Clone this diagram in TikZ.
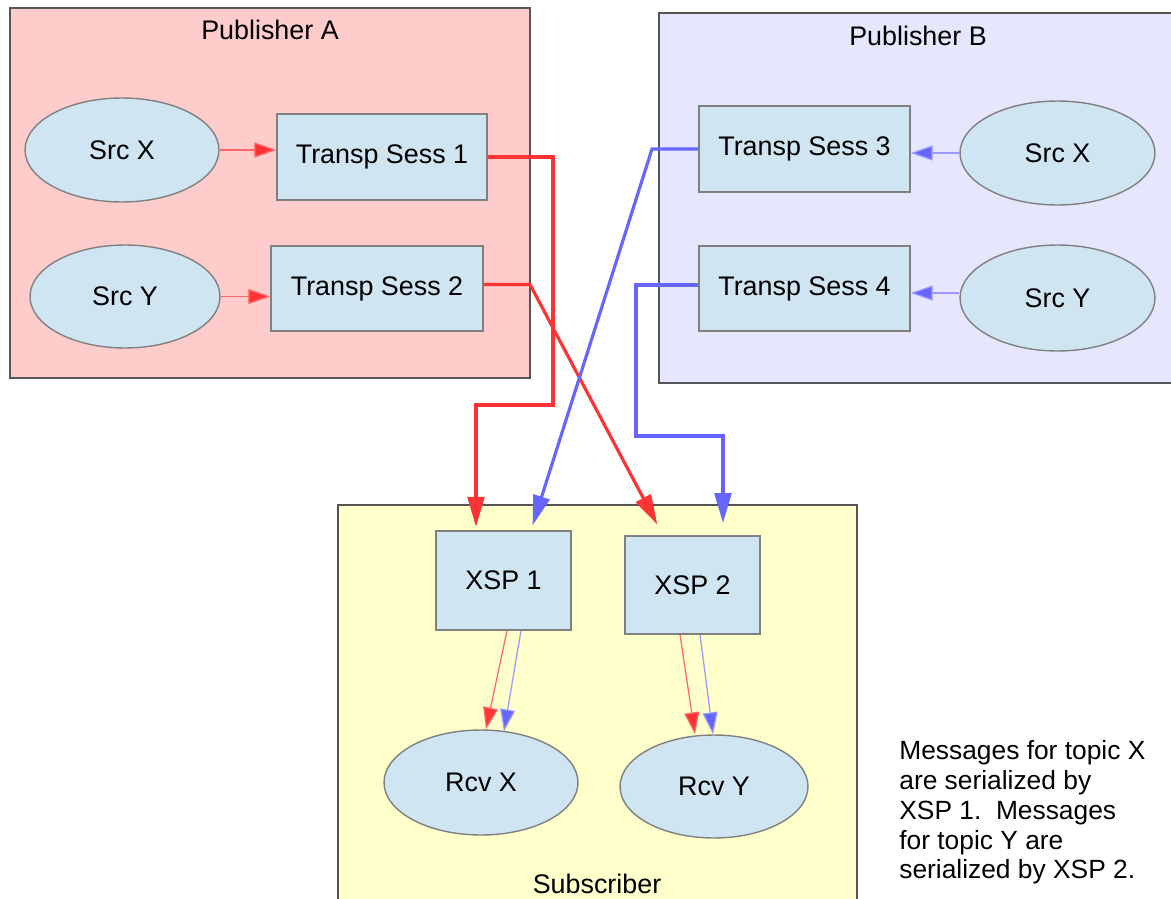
\documentclass[tikz,border=0pt]{standalone}
\usepackage{fontspec}
\setmainfont{Liberation Sans}
\usetikzlibrary{arrows.meta,shapes.geometric}
\definecolor{pinkbg}{HTML}{FFCCCC}
\definecolor{lavbg}{HTML}{E6E6FF}
\definecolor{yelbg}{HTML}{FFFFCC}
\definecolor{nodefill}{HTML}{CFE6F2}
\definecolor{nodeline}{HTML}{808080}
\definecolor{boxline}{HTML}{555555}
\definecolor{redc}{HTML}{FF3333}
\definecolor{bluec}{HTML}{6666FF}
\definecolor{redthin}{HTML}{FF6666}
\definecolor{bluethin}{HTML}{9999FF}
\begin{document}
\begin{tikzpicture}[x=0.02cm,y=-0.02cm,
  every node/.style={font=\fontsize{15.3}{17}\selectfont},
  container/.style={draw=boxline,line width=0.6pt},
  boxnode/.style={draw=nodeline,fill=nodefill,line width=0.8pt,rectangle,inner sep=0pt},
  ellnode/.style={draw=nodeline,fill=nodefill,line width=0.8pt,ellipse,inner sep=0pt},
  thickred/.style={draw=redc,line width=1.8pt,-{Triangle[length=17pt,width=9.5pt]}},
  thickblue/.style={draw=bluec,line width=1.8pt,-{Triangle[length=17pt,width=9.5pt]}},
  thinred/.style={draw=redthin,line width=0.7pt,-{Triangle[length=12.5pt,width=8.5pt,fill=redc]}},
  thinblue/.style={draw=bluethin,line width=0.7pt,-{Triangle[length=12.5pt,width=8.5pt,fill=bluec]}}]
\useasboundingbox[fill=white] (0,0) rectangle (1171,899);
% containers
\draw[container,fill=pinkbg] (10,8) rectangle (530,378);
\draw[container,fill=lavbg] (659,13) rectangle (1185,383);
\draw[container,fill=yelbg] (338,505) rectangle (857,915);
\node (pubA) at (270,30) {Publisher A};
\node (pubB) at (918,36) {Publisher B};
\node (sub) at (597,884) {Subscriber};
% nodes
\node[ellnode,minimum width=3.88cm,minimum height=2.08cm] (srcxa) at (122,150) {Src X};
\node[ellnode,minimum width=3.8cm,minimum height=2.06cm] (srcya) at (125,296.5) {Src Y};
\node[boxnode,minimum width=4.2cm,minimum height=1.72cm] (ts1) at (382,157) {Transp Sess 1};
\node[boxnode,minimum width=4.24cm,minimum height=1.7cm] (ts2) at (377,288.5) {Transp Sess 2};
\node[boxnode,minimum width=4.22cm,minimum height=1.72cm] (ts3) at (804.5,149) {Transp Sess 3};
\node[boxnode,minimum width=4.22cm,minimum height=1.7cm] (ts4) at (804.5,288.5) {Transp Sess 4};
\node[ellnode,minimum width=3.9cm,minimum height=2.08cm] (srcxb) at (1057.5,153) {Src X};
\node[ellnode,minimum width=3.9cm,minimum height=2.12cm] (srcyb) at (1057.5,298) {Src Y};
\node[boxnode,minimum width=2.7cm,minimum height=1.98cm] (xsp1) at (503.5,580.5) {XSP 1};
\node[boxnode,minimum width=2.7cm,minimum height=1.96cm] (xsp2) at (692.5,585) {XSP 2};
\node[ellnode,minimum width=3.88cm,minimum height=2.1cm] (rcvx) at (481,782.5) {Rcv X};
\node[ellnode,minimum width=3.76cm,minimum height=2.06cm] (rcvy) at (714,786.5) {Rcv Y};
\node[align=left,anchor=north west,inner sep=0pt,font=\fontsize{15}{17}\selectfont] (note) at (899,740)
  {Messages for topic X\\are serialized by\\XSP 1.\ \ Messages\\for topic Y are\\serialized by XSP 2.};
% thin arrows
\draw[thinred] (srcxa.east) -- (srcxa.east -| ts1.west);
\draw[thinred] (srcya.east) -- (srcya.east -| ts2.west);
\draw[thinblue] (srcxb.west) -- (srcxb.west -| ts3.east);
\draw[thinblue] ([yshift=0.1cm]srcyb.west) -- ([yshift=0.1cm]srcyb.west -| ts4.east);
% thick connectors
\coordinate (k1) at (553,405);
\coordinate (k2) at (530,284.5);
\coordinate (k3) at (652,149);
\coordinate (k4) at (636,436);
\draw[thickred,shorten >=2pt] (ts1.east) -| (k1) -| ([xshift=-0.55cm]xsp1.north);
\draw[thickred,shorten >=7pt] ([yshift=0.08cm]ts2.east) -- (k2) -- ([xshift=-0.59cm]xsp2.north);
\draw[thickblue,shorten >=3pt] (ts3.west) -- (k3) -- ([xshift=0.55cm]xsp1.north);
\draw[thickblue,shorten >=7pt] ([yshift=0.07cm]ts4.west) -| (k4) -| ([xshift=0.61cm]xsp2.north);
% subscriber internal
\draw[thinred] ([xshift=0.07cm]xsp1.south) -- ([xshift=0.1cm]rcvx.north);
\draw[thinblue] ([xshift=0.35cm]xsp1.south) -- ([xshift=0.46cm,yshift=-0.04cm]rcvx.north);
\draw[thinred] ([xshift=-0.25cm]xsp2.south) -- ([xshift=-0.38cm]rcvy.north);
\draw[thinblue] ([xshift=0.15cm]xsp2.south) -- ([xshift=-0.02cm]rcvy.north);
\end{tikzpicture}
\end{document}
